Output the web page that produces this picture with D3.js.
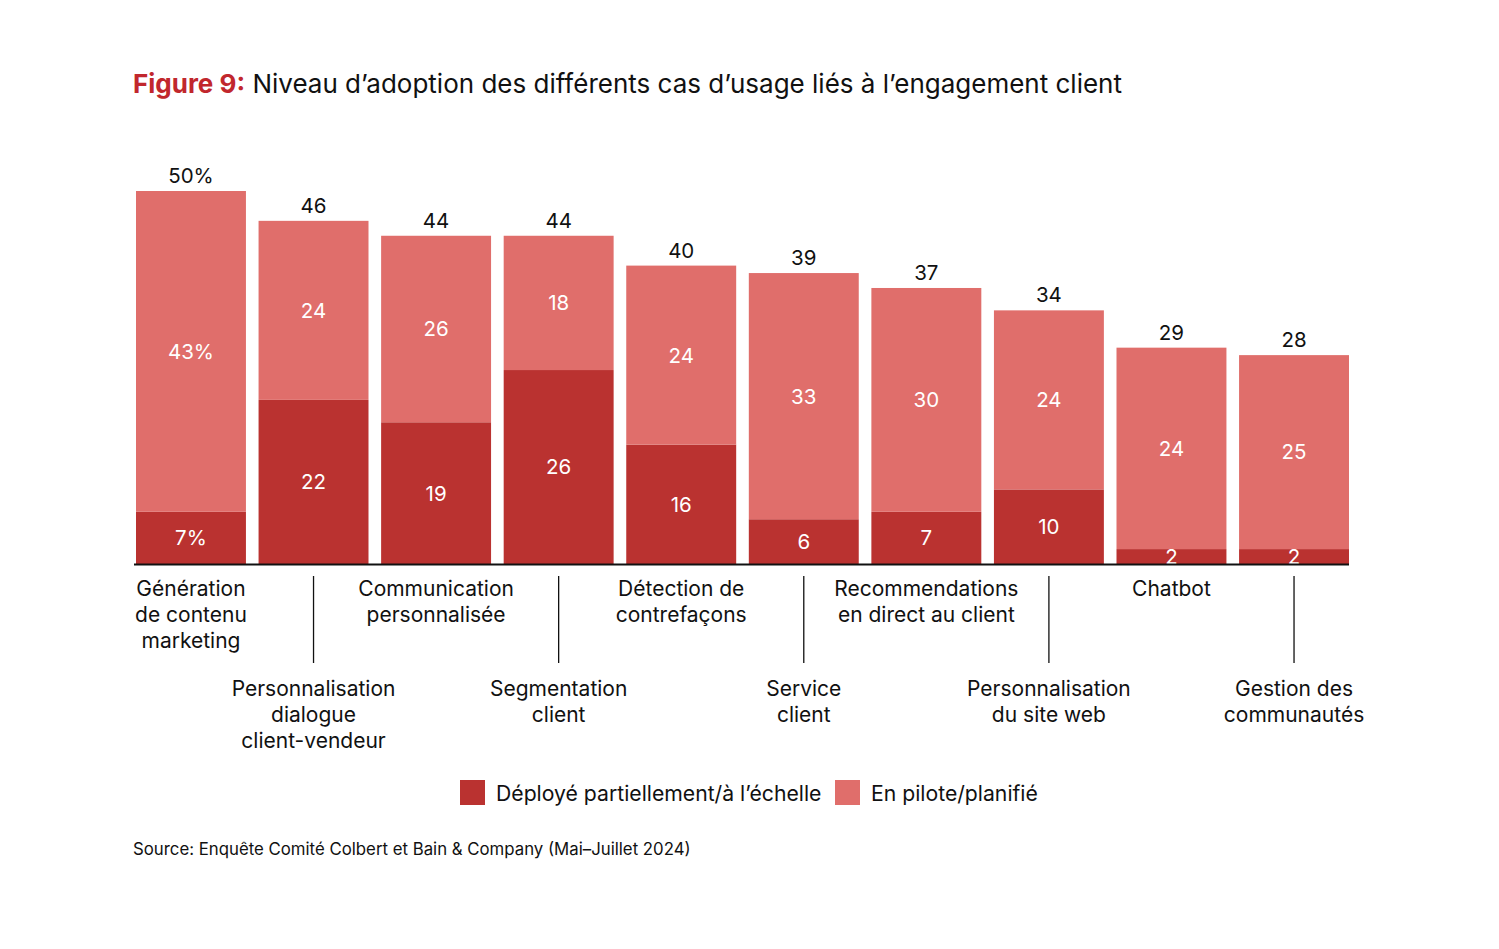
<!DOCTYPE html>
<html><head><meta charset="utf-8">
<script src="https://cdn.jsdelivr.net/npm/d3@7"></script>
<style>body{margin:0;background:#fff;font-family:Inter,"Noto Sans",sans-serif;}</style>
</head><body><svg id="c" width="1499" height="949"></svg>
<script>
const categories = [
  ["Génération","de contenu","marketing"],
  ["Personnalisation","dialogue","client-vendeur"],
  ["Communication","personnalisée"],
  ["Segmentation","client"],
  ["Détection de","contrefaçons"],
  ["Service","client"],
  ["Recommendations","en direct au client"],
  ["Personnalisation","du site web"],
  ["Chatbot"],
  ["Gestion des","communautés"]
];
const deployed = [7,22,19,26,16,6,7,10,2,2];
const pilot = [43,24,26,18,24,33,30,24,24,25];
const totals = [50,46,44,44,40,39,37,34,29,28];
const deployedLabels = ["7%","22","19","26","16","6","7","10","2","2"];
const pilotLabels = ["43%","24","26","18","24","33","30","24","24","25"];
const totalLabels = ["50%","46","44","44","40","39","37","34","29","28"];
const legendLabels = ["Déployé partiellement/à l’échelle","En pilote/planifié"];

const DARK="#BA3230", LIGHT="#E06E6B";
const svg = d3.select("#c");
const font = "Inter, 'Noto Sans', sans-serif";

// Title
const t = svg.append("text").attr("x",133).attr("y",93).attr("font-size",26).attr("font-family",font);
t.append("tspan").attr("font-weight",700).attr("fill","#C1272D").text("Figure 9:");
t.append("tspan").attr("fill","#111").text(" Niveau d’adoption des différents cas d’usage liés à l’engagement client");

const idx = d3.range(categories.length);
const x = d3.scaleBand().domain(idx).range([136,1349]).paddingInner(0.103).paddingOuter(0);
const y = d3.scaleLinear().domain([0,50]).range([564,191]);

const g = svg.append("g");
// dark segments
g.selectAll("rect.d").data(idx).join("rect").attr("class","d")
  .attr("x",i=>x(i)).attr("width",x.bandwidth())
  .attr("y",i=>y(deployed[i])).attr("height",i=>y(0)-y(deployed[i])).attr("fill",DARK);
// light segments
g.selectAll("rect.l").data(idx).join("rect").attr("class","l")
  .attr("x",i=>x(i)).attr("width",x.bandwidth())
  .attr("y",i=>y(totals[i])).attr("height",i=>y(deployed[i])-y(totals[i])).attr("fill",LIGHT);

// axis baseline
svg.append("line").attr("x1",134).attr("x2",1349).attr("y1",y(0)+0.5).attr("y2",y(0)+0.5)
  .attr("stroke","#111").attr("stroke-width",2);

const cx = i=>x(i)+x.bandwidth()/2;
// inner labels
g.selectAll("text.dl").data(idx).join("text").attr("class","dl")
  .attr("x",cx).attr("y",i=>(y(0)+y(deployed[i]))/2).attr("dy","0.36em")
  .attr("text-anchor","middle").attr("fill","#fff").attr("font-size",20.5).attr("font-family",font)
  .text(i=>deployedLabels[i]);
g.selectAll("text.pl").data(idx).join("text").attr("class","pl")
  .attr("x",cx).attr("y",i=>(y(deployed[i])+y(totals[i]))/2).attr("dy","0.36em")
  .attr("text-anchor","middle").attr("fill","#fff").attr("font-size",20.5).attr("font-family",font)
  .text(i=>pilotLabels[i]);
g.selectAll("text.tl").data(idx).join("text").attr("class","tl")
  .attr("x",cx).attr("y",i=>y(totals[i])-8)
  .attr("text-anchor","middle").attr("fill","#111").attr("font-size",20.5).attr("font-family",font)
  .text(i=>totalLabels[i]);

// category labels
idx.forEach(i=>{
  const top = i%2===0 ? 588 : 688;
  const tx = svg.append("text").attr("text-anchor","middle").attr("font-size",21).attr("font-family",font).attr("fill","#111");
  categories[i].forEach((line,k)=>{
    tx.append("tspan").attr("x",cx(i)).attr("y",top+k*26).attr("dy","0.36em").text(line);
  });
  if(i%2===1){
    svg.append("line").attr("x1",cx(i)).attr("x2",cx(i)).attr("y1",576).attr("y2",663)
      .attr("stroke","#111").attr("stroke-width",1.3);
  }
});

// legend
const leg = [{c:DARK,x:460,l:legendLabels[0]},{c:LIGHT,x:835,l:legendLabels[1]}];
leg.forEach(d=>{
  svg.append("rect").attr("x",d.x).attr("y",780).attr("width",25).attr("height",25).attr("fill",d.c);
  svg.append("text").attr("x",d.x+36).attr("y",793).attr("dy","0.36em").attr("font-size",21.2)
    .attr("font-family",font).attr("fill","#111").text(d.l);
});

// source
svg.append("text").attr("x",133).attr("y",849).attr("dy","0.36em").attr("font-size",16.8)
  .attr("font-family",font).attr("fill","#111").text("Source: Enquête Comité Colbert et Bain & Company (Mai–Juillet 2024)");
</script></body></html>
